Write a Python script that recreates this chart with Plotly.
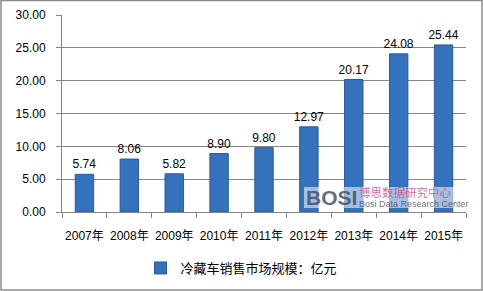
import plotly.graph_objects as go

years = ["2007年", "2008年", "2009年", "2010年", "2011年", "2012年", "2013年", "2014年", "2015年"]
values = [5.74, 8.06, 5.82, 8.90, 9.80, 12.97, 20.17, 24.08, 25.44]
y_ticks = [0, 5, 10, 15, 20, 25, 30]
y_tick_labels = ["0.00", "5.00", "10.00", "15.00", "20.00", "25.00", "30.00"]
series_name = "冷藏车销售市场规模：亿元"

W, H = 483, 291
L, R, T, B = 62, 17, 15, 79
PW, PH = W - L - R, H - T - B


def px(x):
    return (x - L) / PW


def py(y):
    return (H - B - y) / PH


fig = go.Figure()
fig.add_trace(go.Bar(
    x=years, y=values, name=series_name,
    marker=dict(color="#3572BE", line=dict(color="#2A5A9A", width=1)),
    width=0.41,
    text=[f"{v:.2f}" for v in values], textposition="outside",
    constraintext="none",
    textfont=dict(family="Liberation Sans, Noto Sans CJK SC", size=12, color="#000000"),
    cliponaxis=False,
    showlegend=True,
))

fig.update_layout(
    width=W, height=H,
    margin=dict(l=L, r=R, t=T, b=B, autoexpand=False),
    paper_bgcolor="white", plot_bgcolor="white",
    font=dict(family="Liberation Sans, Noto Sans CJK SC", size=12, color="#000000"),
    bargap=0.59,
    legend=dict(orientation="h", xref="container", x=0.5, xanchor="center",
                yref="container", y=1 - 268 / H, yanchor="middle",
                font=dict(family="Noto Sans CJK SC, Liberation Sans", size=13),
                itemwidth=30),
    xaxis=dict(
        automargin=False,
        showline=True, linecolor="#868686", linewidth=1,
        ticks="outside", ticklen=5, tickcolor="#868686", tickson="boundaries",
        tickangle=0, ticklabelstandoff=13,
        tickfont=dict(family="Liberation Sans, Noto Sans CJK SC", size=12),
        showgrid=False,
    ),
    yaxis=dict(
        automargin=False,
        range=[0, 30], tickvals=y_ticks, ticktext=y_tick_labels,
        showline=True, linecolor="#868686", linewidth=1,
        ticks="outside", ticklen=5, tickcolor="#868686",
        ticklabelstandoff=8,
        showgrid=True, gridcolor="#868686", gridwidth=1,
        zeroline=False,
        tickfont=dict(family="Liberation Sans", size=12),
    ),
    shapes=[
        dict(type="rect", xref="paper", yref="paper",
             x0=px(1), x1=px(W - 1), y0=py(H - 1), y1=py(0.5),
             line=dict(color="#8C8C8C", width=1.5)),
        dict(type="rect", xref="paper", yref="paper",
             x0=px(304), x1=px(454), y0=py(208), y1=py(187),
             fillcolor="rgba(255,255,255,0.55)", line=dict(width=0)),
    ],
    annotations=[
        dict(xref="paper", yref="paper", x=px(304), y=py(197), xanchor="left", yanchor="middle",
             text="<b>BOSI</b>", showarrow=False,
             font=dict(family="Liberation Sans", size=21, color="rgba(60,70,95,0.8)")),
        dict(xref="paper", yref="paper", x=px(357), y=py(192), xanchor="left", yanchor="middle",
             text="博思数据研究中心", showarrow=False,
             font=dict(family="Noto Sans CJK SC", size=11.5, color="rgba(205,80,135,0.85)")),
        dict(xref="paper", yref="paper", x=px(357), y=py(204), xanchor="left", yanchor="middle",
             text="Bosi Data Research Center", showarrow=False,
             font=dict(family="Liberation Sans Narrow, Liberation Sans", size=9, color="rgba(80,80,100,0.85)")),
    ],
)

fig.write_html("out.html")
